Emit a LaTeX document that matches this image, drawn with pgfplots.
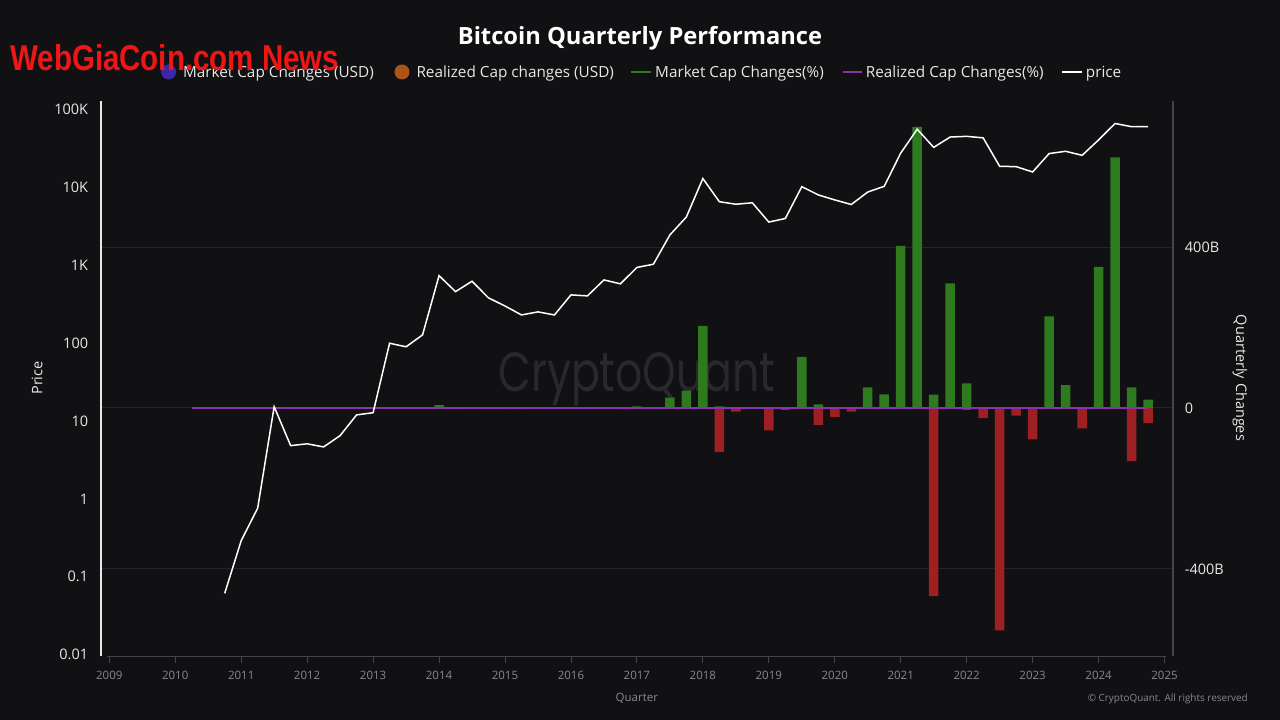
\documentclass[border=0pt]{standalone}
\usepackage{pgfplots}
\pgfplotsset{compat=1.18}
\usepackage{pgfplotstable}
\usepackage{fontspec}
\setmainfont{Open Sans}
\newfontfamily\wmfont{Poppins}
\newfontfamily\webfont{Liberation Sans}
\newcommand\fs[1]{\fontsize{#1bp}{#1bp}\selectfont}

\definecolor{bg}{RGB}{17,17,20}
\definecolor{gridc}{RGB}{36,36,42}
\definecolor{axisgrey}{RGB}{68,68,76}
\definecolor{ticktext}{RGB}{135,135,145}
\definecolor{labeltext}{RGB}{232,232,232}
\definecolor{barup}{RGB}{46,122,30}
\definecolor{bardown}{RGB}{158,32,34}
\definecolor{realized}{RGB}{140,50,170}
\definecolor{mcusd}{RGB}{58,40,168}
\definecolor{rcusd}{RGB}{172,84,24}
\definecolor{wm}{RGB}{40,40,46}
\definecolor{webred}{RGB}{240,22,22}

% quarter, BTC price (USD), realized cap change (%)
\pgfplotstableread{
q       price  rpct
2010.25 nan    0
2010.50 nan    0
2010.75 0.061  0
2011.00 0.29   0
2011.25 0.76   0
2011.50 15.3   0
2011.75 4.83   0
2012.00 5.1    0
2012.25 4.65   0
2012.50 6.5    0
2012.75 12.0   0
2013.00 12.8   0
2013.25 100    0
2013.50 90     0
2013.75 128    0
2014.00 739    0
2014.25 461    0
2014.50 626    0
2014.75 383    0
2015.00 301    0
2015.25 231    0
2015.50 253    0
2015.75 231    0
2016.00 418    0
2016.25 406    0
2016.50 651    0
2016.75 580    0
2017.00 942    0
2017.25 1036   0
2017.50 2466   0
2017.75 4190   0
2018.00 13090  0
2018.25 6590   0
2018.50 6120   0
2018.75 6380   0
2019.00 3610   0
2019.25 4010   0
2019.50 10280  0
2019.75 8060   0
2020.00 6950   0
2020.25 6070   0
2020.50 8780   0
2020.75 10400  0
2021.00 27800  0
2021.25 56300  0
2021.50 32900  0
2021.75 44700  0
2022.00 45600  0
2022.25 43600  0
2022.50 18800  0
2022.75 18600  0
2023.00 15900  0
2023.25 27400  0
2023.50 29300  0
2023.75 26000  0
2024.00 41000  0
2024.25 66700  0
2024.50 60700  0
2024.75 60700  0
}\quarters

% positive quarterly changes (billion USD)
\pgfplotstableread{
q       chg
2014.00 7
2017.00 4
2017.50 26
2017.75 43
2018.00 204
2018.25 4
2019.50 127
2019.75 9
2020.50 51
2020.75 34
2021.00 403
2021.25 699
2021.50 33
2021.75 310
2022.00 61
2023.25 228
2023.50 57
2024.00 351
2024.25 623
2024.50 51
2024.75 21
}\gains

% negative quarterly changes (billion USD)
\pgfplotstableread{
q       chg
2014.25 -3
2014.75 -3
2015.00 -3
2015.25 -3
2016.75 -3
2018.25 -110
2018.50 -9
2019.00 -56
2019.25 -5
2019.75 -42
2020.00 -22
2020.25 -9
2021.50 -468
2022.00 -5
2022.25 -25
2022.50 -553
2022.75 -19
2023.00 -78
2023.75 -51
2024.50 -132
2024.75 -38
}\losses

\begin{document}
\begin{tikzpicture}[x=1bp,y=1bp]
\fill[bg] (0,0) rectangle (1280,720);
\node[anchor=base west, inner sep=0pt, text=wm] at (498,328) {\resizebox{277bp}{39bp}{\wmfont CryptoQuant}};

% changes, right axis
\begin{axis}[
    at={(100.7bp,63.6bp)}, anchor=south west,
    scale only axis, width=1072bp, height=555.7bp,
    xmin=2008.87, xmax=2025.124,
    ymin=-617.7, ymax=764,
    axis x line*=bottom, axis y line*=right,
    x axis line style={draw=none},
    y axis line style={draw=axisgrey, line width=1.6bp},
    xtick={2009,2010,...,2025},
    xticklabels={2009,2010,2011,2012,2013,2014,2015,2016,2017,2018,2019,2020,2021,2022,2023,2024,2025},
    xtick align=outside,
    major tick length=7bp,
    xtick style={draw=axisgrey, line width=0.8bp},
    xticklabel style={font=\fs{11.5}, text=ticktext, inner sep=0pt, anchor=north, yshift=-7.2bp},
    ytick={-400,0,400},
    yticklabels={-400B,0,400B},
    ytick style={draw=none},
    yticklabel style={font=\fs{14.5}, text=labeltext, inner sep=0pt, anchor=west, xshift=12bp},
    ymajorgrids, grid style={draw=gridc, line width=1bp},
]
\addplot[ybar, bar width=0.144, bar shift=0pt, fill=barup, draw=none] table[x=q, y=chg] {\gains};
\addplot[ybar, bar width=0.144, bar shift=0pt, fill=bardown, draw=none] table[x=q, y=chg] {\losses};
\addplot[realized, line width=1.6bp] table[x=q, y=rpct] {\quarters};
\end{axis}

% price, left log axis
\begin{axis}[
    at={(100.7bp,63.6bp)}, anchor=south west,
    scale only axis, width=1072bp, height=555.7bp,
    xmin=2008.87, xmax=2025.124,
    ymode=log, ymin=0.00945, ymax=131000,
    axis x line=none, axis y line*=left,
    y axis line style={draw=labeltext, line width=2bp},
    ytick={0.01,0.1,1,10,100,1000,10000,100000},
    yticklabels={0.01,0.1,1,10,100,1K,10K,100K},
    ytick style={draw=none}, major tick length=0pt, minor tick length=0pt,
    yticklabel style={font=\fs{14.5}, text=labeltext, inner sep=0pt, anchor=east, xshift=-12.4bp},
]
\addplot[white, line width=1.5bp] table[x=q, y=price] {\quarters};
\end{axis}

\draw[axisgrey, line width=1bp] (107,63.6) -- (1166,63.6);

% axis titles
\node[rotate=90, text=labeltext, font=\fs{14.5}] at (37,342) {Price};
\node[rotate=-90, text=labeltext, font=\fs{14.5}] at (1240,342) {Quarterly Changes};
\node[anchor=base, text=ticktext, font=\fs{11.5}] at (636.8,18.5) {Quarter};
\node[anchor=base east, inner sep=0pt, text=ticktext] at (1248,18.5) {\resizebox{160bp}{!}{\fs{12}© CryptoQuant. All rights reserved}};

% title and legend
\node[anchor=base, text=white, font=\fs{23.7}\bfseries] at (640,675) {Bitcoin Quarterly Performance};
\fill[mcusd] (168.6,648) circle (7.5);
\node[anchor=base west, inner sep=0pt, text=labeltext, font=\fs{15.3}] at (182.9,642) {Market Cap Changes (USD)};
\fill[rcusd] (402,648) circle (7.5);
\node[anchor=base west, inner sep=0pt, text=labeltext, font=\fs{15.3}] at (416.3,642) {Realized Cap changes (USD)};
\draw[barup, line width=1.6] (630.6,648) -- (651,648);
\node[anchor=base west, inner sep=0pt, text=labeltext, font=\fs{15.3}] at (655,642) {Market Cap Changes(\%)};
\draw[realized, line width=1.6] (842.9,648) -- (861.6,648);
\node[anchor=base west, inner sep=0pt, text=labeltext, font=\fs{15.3}] at (865.7,642) {Realized Cap Changes(\%)};
\draw[white, line width=1.8] (1062.4,648) -- (1081.6,648);
\node[anchor=base west, inner sep=0pt, text=labeltext, font=\fs{15.3}] at (1085.7,642) {price};

% site watermark
\node[anchor=base west, inner sep=0pt, text=webred] at (10.2,649) {\resizebox{328.6bp}{26bp}{\webfont\bfseries WebGiaCoin.com News}};

\pgfresetboundingbox
\useasboundingbox (0,0) rectangle (1280,720);
\end{tikzpicture}
\end{document}
